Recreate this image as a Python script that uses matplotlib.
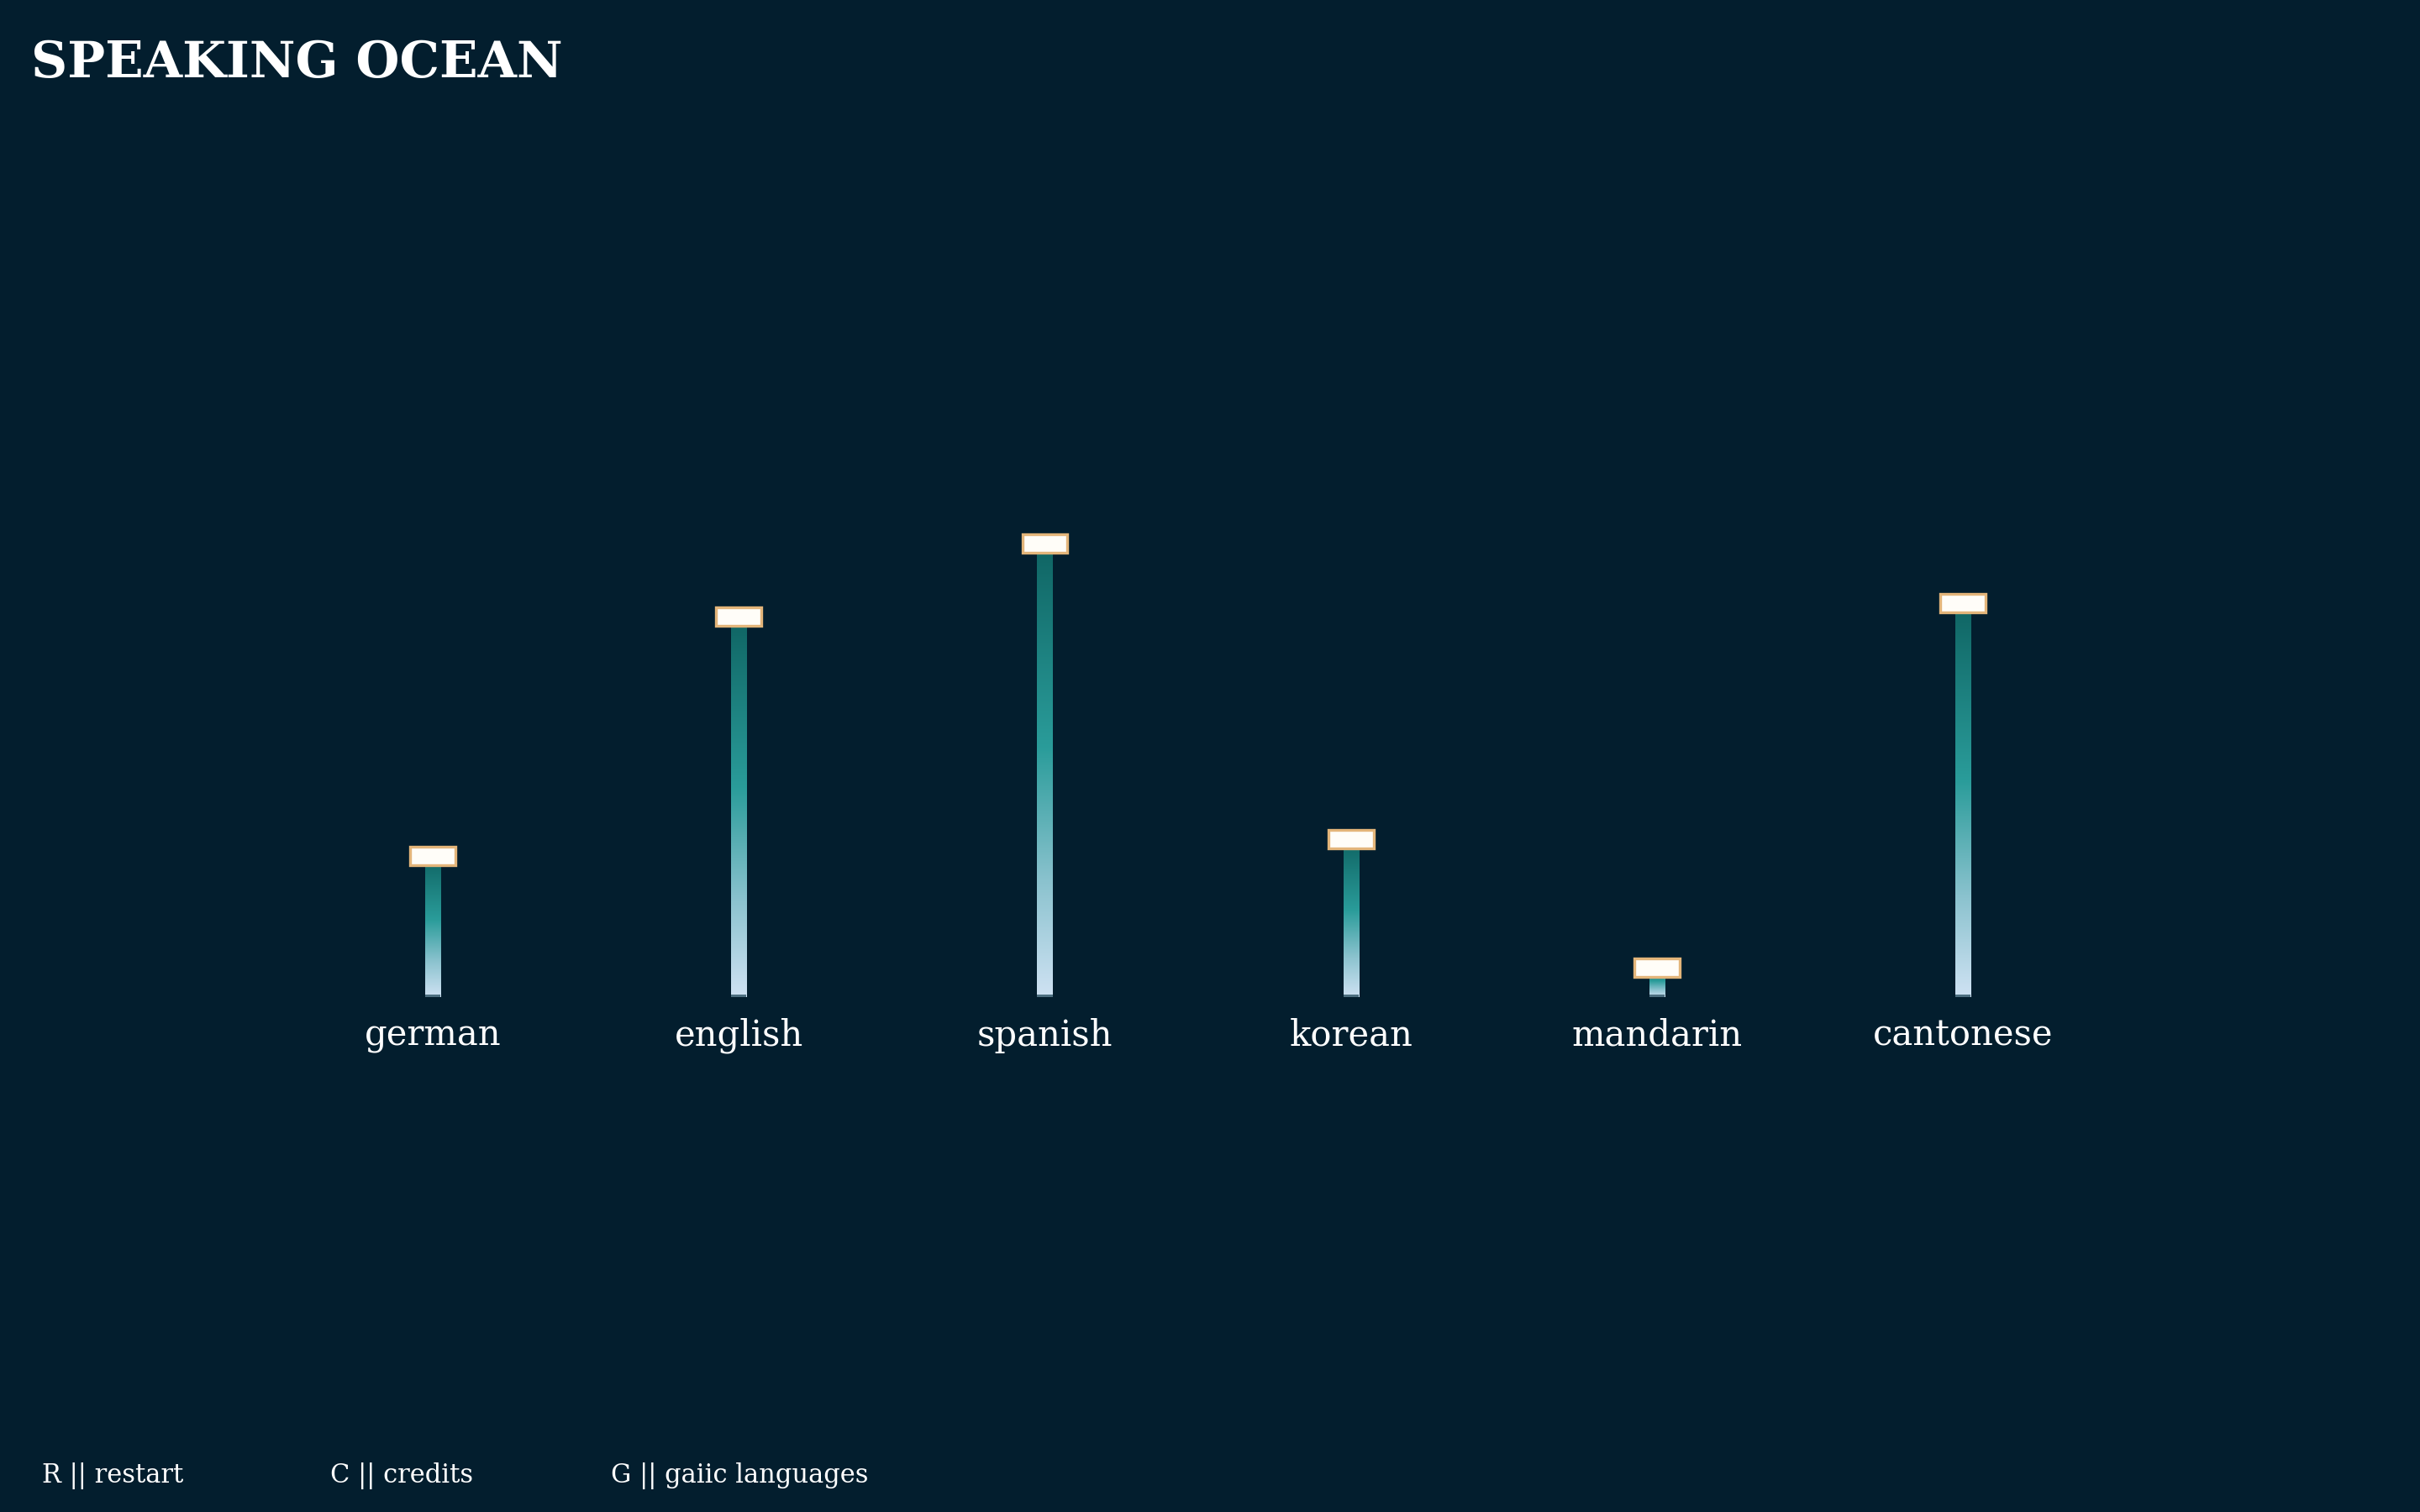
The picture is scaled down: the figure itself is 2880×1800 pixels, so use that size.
import matplotlib
matplotlib.use("Agg")
import matplotlib.pyplot as plt
from matplotlib.colors import LinearSegmentedColormap
from matplotlib.patches import Rectangle
import numpy as np

# languages and their heights
languages = ["german", "english", "spanish", "korean", "mandarin", "cantonese"]
heights = [179, 464, 551, 199, 46, 480]
footer = ["R || restart", "C || credits", "G || gaiic languages"]

bg = "#031e2e"
plt.rcParams['font.family'] = ['DejaVu Serif', 'DejaVu Sans']

fig = plt.figure(figsize=(14.4, 9), dpi=200, facecolor=bg)
ax = fig.add_axes([0.1156, 0.3406, 0.7588, 0.3333])
ax.set_facecolor(bg)
ax.axis("off")

ocean = LinearSegmentedColormap.from_list(
    "ocean", [(0.0, "#0f6463"), (0.45, "#2a9c9a"), (0.75, "#8cc3cf"), (1.0, "#cfe2f3")])
grad = np.linspace(0, 1, 256).reshape(-1, 1)

bar_w = 0.05
cap_w = 0.148
cap_h = 22

for i, (name, h) in enumerate(zip(languages, heights)):
    top = h - cap_h / 2
    ax.imshow(grad, cmap=ocean, aspect="auto", origin="upper",
              extent=(i - bar_w / 2, i + bar_w / 2, 0, top), zorder=2)
    ax.add_patch(Rectangle((i - bar_w / 2, 0), bar_w, 3, color="#4d6f80", zorder=3, lw=0))
    ax.add_patch(Rectangle((i - cap_w / 2, h - cap_h), cap_w, cap_h,
                           facecolor="#fffdf8", edgecolor="#e3b57a", lw=1.2, zorder=4))
    ax.text(i, -58, name, ha="center", va="baseline", color="white",
            fontsize=15, clip_on=False)

ax.set_xlim(-0.5, 5.5)
ax.set_ylim(0, 600)

fig.text(37 / 2880, 1 - 92 / 1800, "SPEAKING OCEAN", color="white",
         fontsize=21.5, fontweight="bold", ha="left", va="baseline")

for x, t in zip([50, 393, 727], footer):
    fig.text(x / 2880, 1 - 1765 / 1800, t, color="white", fontsize=11,
             ha="left", va="baseline")

fig.savefig("out.png", dpi=200, facecolor=bg)
